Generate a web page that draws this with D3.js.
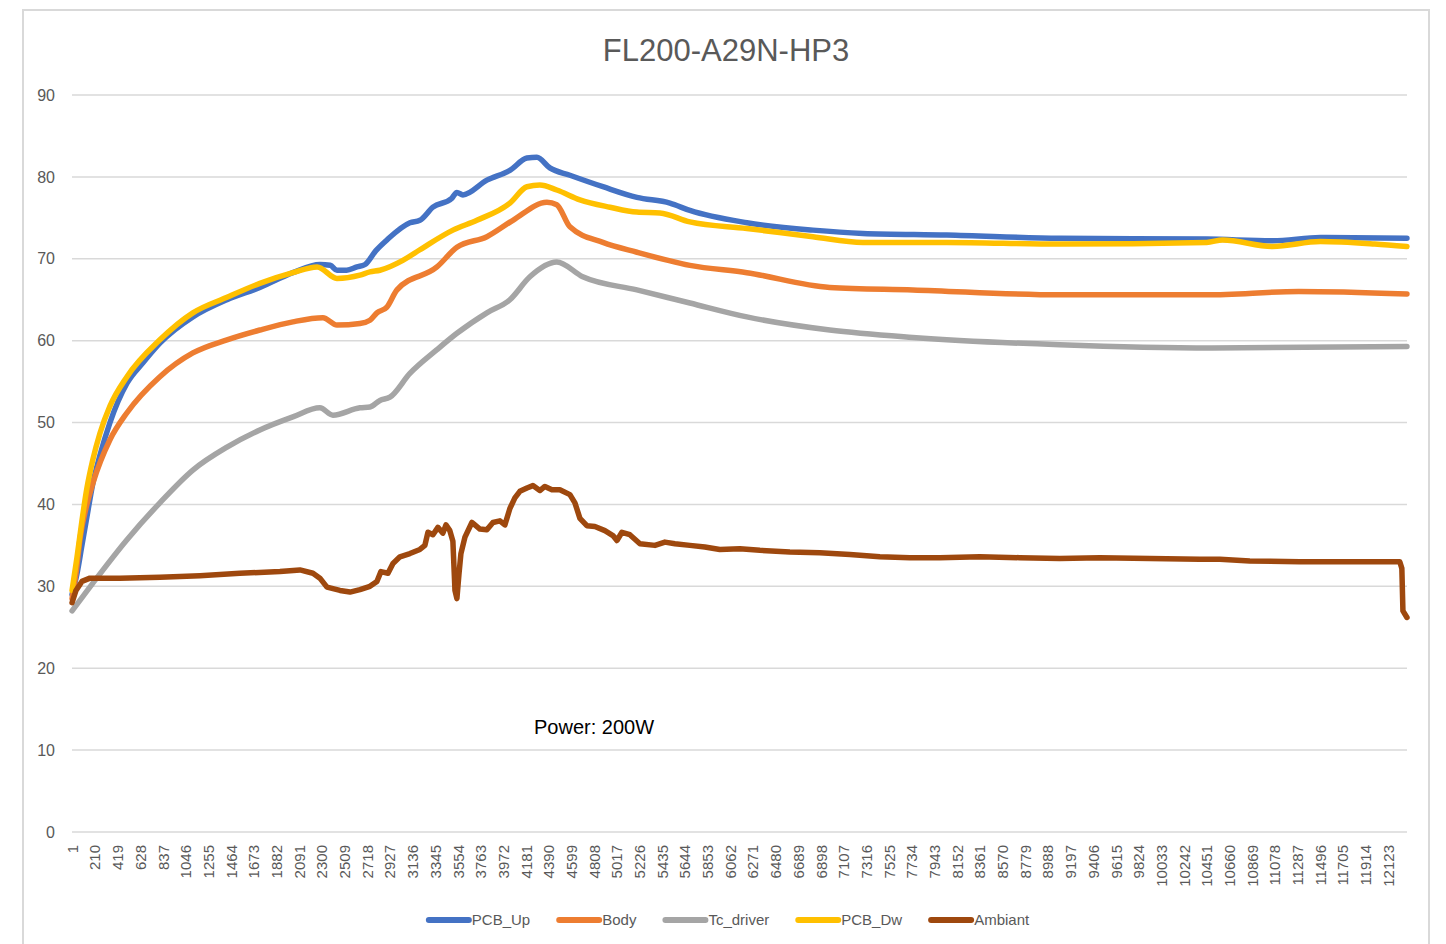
<!DOCTYPE html>
<html><head><meta charset="utf-8">
<script src="https://cdn.jsdelivr.net/npm/d3@7"></script>
<style>
html,body{margin:0;padding:0;background:#fff;}
svg{display:block;font-family:"Liberation Sans",Arial,sans-serif;}
</style></head>
<body><svg id="chart" width="1446" height="944"></svg>
<script>
const title = "FL200-A29N-HP3";
const note = "Power: 200W";
const sampleCount = 12297;
const seriesNames = ["PCB_Up","Body","Tc_driver","PCB_Dw","Ambiant"];
const seriesColors = ["#4472C4","#ED7D31","#A5A5A5","#FFC000","#9E480E"];
const yTicks = [0,10,20,30,40,50,60,70,80,90];
const xTickLabels = [1,210,419,628,837,1046,1255,1464,1673,1882,2091,2300,2509,2718,2927,3136,3345,3554,3763,3972,4181,4390,4599,4808,5017,5226,5435,5644,5853,6062,6271,6480,6689,6898,7107,7316,7525,7734,7943,8152,8361,8570,8779,8988,9197,9406,9615,9824,10033,10242,10451,10660,10869,11078,11287,11496,11705,11914,12123];

// [sample index, temperature]
const pcbUp = [[1,29.0],[46,31.5],[92,35.0],[138,38.5],[193,42.6],[258,46.0],[350,50.0],[507,54.8],[654,57.3],[810,59.7],[1114,62.9],[1428,65.0],[1731,66.5],[2035,68.3],[2284,69.3],[2380,69.2],[2441,68.6],[2530,68.6],[2625,69.0],[2700,69.3],[2800,71.0],[2901,72.3],[3113,74.4],[3205,74.7],[3325,76.3],[3500,77.4],[3546,78.1],[3601,77.8],[3822,79.6],[4034,80.8],[4191,82.3],[4283,82.4],[4402,81.1],[4587,80.2],[4891,78.8],[5204,77.5],[5508,76.8],[5692,75.9],[6217,74.4],[6825,73.5],[7285,73.1],[8059,72.9],[9099,72.5],[10453,72.4],[11061,72.2],[11500,72.6],[12297,72.5]];
const body = [[1,28.5],[46,32.5],[74,35.8],[138,40.0],[193,42.6],[350,47.9],[507,51.2],[810,55.6],[1114,58.5],[1428,60.1],[1731,61.3],[2035,62.3],[2312,62.8],[2441,61.9],[2653,62.1],[2745,62.5],[2809,63.4],[2901,64.1],[2994,66.2],[3362,69.0],[3546,71.4],[3822,72.7],[4062,74.7],[4375,76.9],[4466,76.6],[4587,73.9],[4891,72.0],[5204,70.8],[5692,69.2],[6217,68.3],[6980,66.5],[7745,66.2],[9099,65.6],[10453,65.6],[11300,66.0],[12297,65.7]];
const tcDriver = [[1,27.0],[193,30.4],[507,35.7],[810,40.2],[1114,44.2],[1428,47.0],[1731,49.1],[2035,50.7],[2284,51.8],[2404,50.9],[2653,51.8],[2745,51.9],[2837,52.7],[2929,53.1],[3113,56.0],[3362,58.9],[3546,60.9],[3822,63.4],[4034,65.0],[4218,67.8],[4466,69.6],[4705,67.8],[5204,66.2],[5692,64.6],[6217,62.9],[6980,61.3],[7745,60.4],[9099,59.5],[10500,59.1],[12297,59.3]];
const pcbDw = [[1,29.5],[46,33.5],[92,38.0],[138,42.0],[193,45.5],[258,48.7],[350,52.0],[507,55.6],[810,60.1],[1114,63.4],[1428,65.3],[1731,67.0],[2035,68.3],[2258,69.0],[2441,67.6],[2653,68.0],[2745,68.4],[2837,68.6],[3048,69.8],[3205,71.1],[3509,73.5],[3730,74.7],[4034,76.8],[4191,78.8],[4310,79.0],[4466,78.4],[4679,77.2],[4956,76.3],[5204,75.7],[5416,75.6],[5692,74.5],[6217,73.7],[6825,72.7],[7285,72.0],[8059,72.0],[9099,71.8],[10453,72.0],[10600,72.3],[11061,71.5],[11500,72.1],[12000,71.8],[12297,71.5]];
const ambiant = [[1,28.0],[37,29.5],[92,30.6],[166,31.0],[442,31.0],[810,31.1],[1179,31.3],[1547,31.6],[1916,31.8],[2100,32.0],[2220,31.6],[2284,31.0],[2349,29.9],[2469,29.5],[2561,29.3],[2653,29.6],[2745,30.0],[2809,30.6],[2846,31.8],[2911,31.6],[2957,32.8],[3021,33.6],[3113,34.0],[3205,34.5],[3251,35.0],[3279,36.6],[3325,36.3],[3371,37.2],[3417,36.5],[3445,37.5],[3481,36.8],[3509,35.5],[3528,29.5],[3546,28.5],[3565,31.5],[3583,34.0],[3620,36.0],[3684,37.8],[3758,37.0],[3822,36.9],[3878,37.8],[3942,38.0],[3988,37.5],[4034,39.5],[4080,40.8],[4126,41.6],[4191,42.0],[4246,42.3],[4310,41.7],[4356,42.2],[4421,41.8],[4494,41.8],[4587,41.2],[4633,40.2],[4679,38.3],[4743,37.4],[4817,37.3],[4909,36.8],[4983,36.2],[5020,35.6],[5066,36.6],[5139,36.3],[5232,35.2],[5370,35.0],[5462,35.4],[5554,35.2],[5692,35.0],[5830,34.8],[5968,34.5],[6152,34.6],[6337,34.4],[6613,34.2],[6889,34.1],[7166,33.9],[7442,33.6],[7718,33.5],[7994,33.5],[8363,33.6],[8731,33.5],[9099,33.4],[9468,33.5],[9929,33.4],[10389,33.3],[10573,33.3],[10850,33.1],[11310,33.0],[11771,33.0],[12185,33.0],[12231,33.0],[12250,32.2],[12260,27.0],[12297,26.2]];
const seriesData = [pcbUp, body, tcDriver, pcbDw, ambiant];

const svg = d3.select("#chart");
const W = 1446, H = 944;
const plot = {left:72, right:1407, top:95, bottom:832};
const textColor = "#595959";
const gridColor = "#d9d9d9";

svg.append("rect").attr("x",23).attr("y",10).attr("width",1406).attr("height",H)
  .attr("fill","#fff").attr("stroke",gridColor).attr("stroke-width",2);

const x = d3.scaleLinear().domain([0.5, sampleCount+0.5]).range([plot.left, plot.right]);
const y = d3.scaleLinear().domain([0,90]).range([plot.bottom, plot.top]);

svg.append("g").selectAll("line").data(yTicks).join("line")
  .attr("x1",plot.left).attr("x2",plot.right)
  .attr("y1",d=>y(d)).attr("y2",d=>y(d))
  .attr("stroke",gridColor).attr("stroke-width",1.5);

const yAxis = d3.axisLeft(y).tickValues(yTicks).tickSize(0).tickPadding(17);
const gy = svg.append("g").attr("transform",`translate(${plot.left},0)`).call(yAxis);
gy.select(".domain").remove();
gy.selectAll("text").attr("fill",textColor).attr("font-size",16).attr("font-family","Liberation Sans, Arial, sans-serif");

const xAxis = d3.axisBottom(x).tickValues(xTickLabels).tickSize(0).tickFormat(d=>String(d));
const gx = svg.append("g").attr("transform",`translate(0,${plot.bottom})`).call(xAxis);
gx.select(".domain").remove();
gx.selectAll("text")
  .attr("fill",textColor).attr("font-size",15).attr("font-family","Liberation Sans, Arial, sans-serif")
  .attr("text-anchor","end").attr("dy","0.35em")
  .attr("transform","translate(0,13) rotate(-90)").attr("x",0).attr("y",0);

const smoothLine = d3.line().x(d=>x(d[0])).y(d=>y(d[1])).curve(d3.curveMonotoneX);
const rawLine = d3.line().x(d=>x(d[0])).y(d=>y(d[1])).curve(d3.curveLinear);
svg.append("g").selectAll("path").data(seriesData).join("path")
  .attr("d",(d,i)=> i===4 ? rawLine(d) : smoothLine(d)).attr("fill","none")
  .attr("stroke",(d,i)=>seriesColors[i]).attr("stroke-width",5.5)
  .attr("stroke-linejoin","round").attr("stroke-linecap","round");

svg.append("text").attr("x",726).attr("y",61).attr("text-anchor","middle")
  .attr("fill",textColor).attr("font-size",31).text(title);

svg.append("text").attr("x",534).attr("y",734)
  .attr("fill","#000").attr("font-size",20).text(note);

const lg = svg.append("g");
const items = lg.selectAll("g").data(seriesNames).join("g");
items.append("line").attr("x1",2).attr("x2",42).attr("y1",0).attr("y2",0)
  .attr("stroke",(d,i)=>seriesColors[i]).attr("stroke-width",6).attr("stroke-linecap","round");
items.append("text").attr("x",45).attr("y",0).attr("dy","0.35em")
  .attr("fill",textColor).attr("font-size",15).text(d=>d);
let cx = 0; const pos = [];
const gap = 27;
items.each(function(){ const w = 45 + this.querySelector("text").getComputedTextLength(); pos.push(cx); cx += w + gap; });
const total = cx - gap;
items.attr("transform",(d,i)=>`translate(${pos[i]},0)`);
lg.attr("transform",`translate(${728 - total/2},920)`);
</script></body></html>
